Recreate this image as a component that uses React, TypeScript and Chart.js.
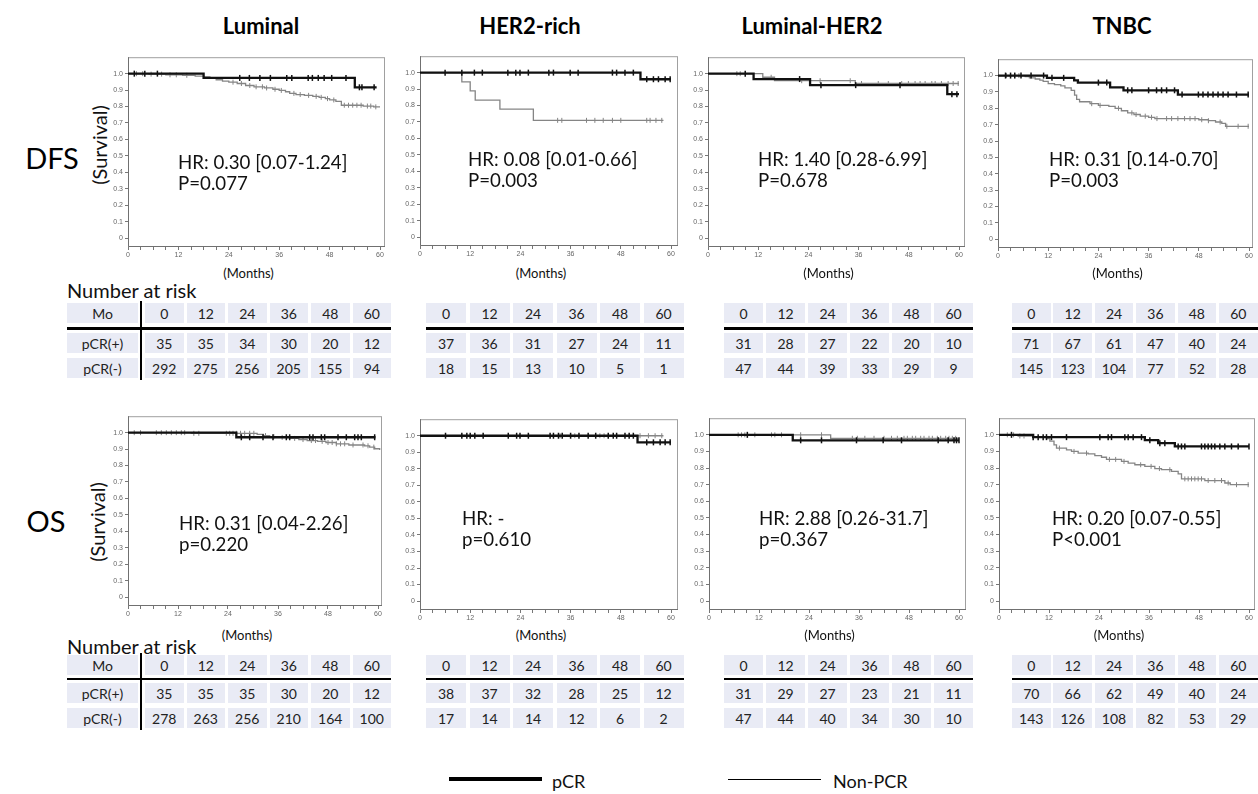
import React, { useEffect, useRef } from "react";
import { Chart, registerables } from "chart.js";
Chart.register(...registerables);

type Step = [number, number];

// ---------------- text / labels ----------------
const columnTitles = ["Luminal", "HER2-rich", "Luminal-HER2", "TNBC"];
const rowTitles = ["DFS", "OS"];
const riskRowLabels = ["Mo", "pCR(+)", "pCR(-)"];
const riskMonths = [0, 12, 24, 36, 48, 60];
const xTickLabels = [0, 12, 24, 36, 48, 60];
const xMinorTicks = [0, 3, 6, 9, 12, 15, 18, 21, 24, 27, 30, 33, 36, 39, 42, 45, 48, 51, 54, 57, 60];
const yTickValues = [0, 0.1, 0.2, 0.3, 0.4, 0.5, 0.6, 0.7, 0.8, 0.9, 1.0];

const dfsHR = ["HR: 0.30 [0.07-1.24]", "HR: 0.08 [0.01-0.66]", "HR: 1.40 [0.28-6.99]", "HR: 0.31 [0.14-0.70]"];
const dfsP = ["P=0.077", "P=0.003", "P=0.678", "P=0.003"];
const osHR = ["HR: 0.31 [0.04-2.26]", "HR: -", "HR: 2.88 [0.26-31.7]", "HR: 0.20 [0.07-0.55]"];
const osP = ["p=0.220", "p=0.610", "p=0.367", "P<0.001"];

// ---------------- number at risk ----------------
const dfsRiskPcrLuminal = [35, 35, 34, 30, 20, 12];
const dfsRiskNonLuminal = [292, 275, 256, 205, 155, 94];
const dfsRiskPcrHer2 = [37, 36, 31, 27, 24, 11];
const dfsRiskNonHer2 = [18, 15, 13, 10, 5, 1];
const dfsRiskPcrLumHer2 = [31, 28, 27, 22, 20, 10];
const dfsRiskNonLumHer2 = [47, 44, 39, 33, 29, 9];
const dfsRiskPcrTnbc = [71, 67, 61, 47, 40, 24];
const dfsRiskNonTnbc = [145, 123, 104, 77, 52, 28];

const osRiskPcrLuminal = [35, 35, 35, 30, 20, 12];
const osRiskNonLuminal = [278, 263, 256, 210, 164, 100];
const osRiskPcrHer2 = [38, 37, 32, 28, 25, 12];
const osRiskNonHer2 = [17, 14, 14, 12, 6, 2];
const osRiskPcrLumHer2 = [31, 29, 27, 23, 21, 11];
const osRiskNonLumHer2 = [47, 44, 40, 34, 30, 10];
const osRiskPcrTnbc = [70, 66, 62, 49, 40, 24];
const osRiskNonTnbc = [143, 126, 108, 82, 53, 29];

// ---------------- KM curves: [month, survival] ----------------
// DFS Luminal
const dfsLumPcr: Step[] = [[0, 1], [18, 0.974], [54, 0.917], [59.2, 0.917]];
const dfsLumPcrCens = [1.5, 4, 7, 26.6, 28.9, 31.4, 33.9, 37.8, 39, 42.9, 43.9, 45.3, 46.7, 48.5, 51.9, 55.1, 55.7, 58.6];
const dfsLumNon: Step[] = [[0, 1], [5, 0.997], [9, 0.993], [13, 0.99], [16, 0.985], [18, 0.98], [19.5, 0.972], [21, 0.963], [22.5, 0.955], [24, 0.948], [26, 0.94], [28, 0.928], [30, 0.92], [32.5, 0.913], [34.5, 0.905], [36, 0.898], [37.5, 0.89], [38.5, 0.88], [40, 0.873], [42, 0.868], [44, 0.862], [45.5, 0.856], [47, 0.848], [48, 0.84], [49.5, 0.832], [50.8, 0.808], [56, 0.803], [58.5, 0.798], [60, 0.798]];
const dfsLumNonCens = [2, 3.5, 5.5, 8, 10, 11.5, 14, 25, 27, 29, 30.5, 32, 33, 35, 36.5, 39.5, 41, 43, 44.8, 46, 47.5, 49, 51.5, 52.5, 53.5, 54.5, 55.5, 57, 57.8, 59];
// DFS HER2-rich
const dfsHerPcr: Step[] = [[0, 1], [52.7, 0.96], [60, 0.96]];
const dfsHerPcrCens = [6, 10, 13, 14.9, 21, 22.9, 23.9, 25.9, 30.8, 31.9, 35.9, 37.8, 46, 47, 49, 51, 54.2, 55.8, 57, 58.6, 59.8];
const dfsHerNon: Step[] = [[0, 1], [10, 0.944], [12, 0.889], [13.2, 0.833], [19.1, 0.778], [27.1, 0.71], [58.2, 0.71]];
const dfsHerNonCens = [32.9, 33.9, 39.8, 41.8, 43.8, 46, 48, 54.2, 55, 56.4, 57.8];
// DFS Luminal-HER2
const dfsLhPcr: Step[] = [[0, 1], [10.9, 0.967], [24.4, 0.93], [57.2, 0.875], [60, 0.875]];
const dfsLhPcrCens = [8.9, 21.9, 27, 35.3, 45.9, 58.3, 59.5];
const dfsLhNon: Step[] = [[0, 1], [13.1, 0.978], [15.9, 0.957], [35.2, 0.94], [60, 0.94]];
const dfsLhNonCens = [6.9, 7.7, 15.1, 22.4, 26.8, 34, 36.7, 40.7, 43.1, 46.3, 47.9, 49.5, 50.7, 51.9, 53.5, 54.3, 55.8, 57.4, 58.6, 59.8];
// DFS TNBC
const dfsTnPcr: Step[] = [[0, 1], [11.7, 0.986], [18.2, 0.971], [19.1, 0.957], [26.8, 0.928], [30, 0.91], [43, 0.884], [60, 0.884]];
const dfsTnPcrCens = [1.8, 3, 4, 5.5, 7.9, 10.9, 12.9, 15.7, 24, 26, 31, 32, 36, 37.9, 39.1, 40.3, 42.2, 44, 47.9, 49, 50.2, 51.4, 52.6, 53.8, 55, 57, 59.8];
const dfsTnNon: Step[] = [[0, 1], [6.5, 0.993], [7.5, 0.986], [8.9, 0.979], [10, 0.972], [10.8, 0.965], [12, 0.951], [13.5, 0.944], [15, 0.937], [16, 0.925], [17.5, 0.91], [18.3, 0.88], [18.8, 0.855], [19.5, 0.84], [22, 0.828], [24, 0.818], [26.5, 0.812], [28, 0.8], [29.5, 0.785], [31, 0.772], [32.5, 0.762], [34, 0.752], [36, 0.745], [37.5, 0.737], [48, 0.73], [50.3, 0.724], [52, 0.716], [53.5, 0.708], [54.4, 0.69], [60, 0.69]];
const dfsTnNonCens = [2, 3, 4, 5, 22.4, 24.4, 28.8, 32, 33, 35.2, 36.7, 38, 40.3, 41.5, 43, 44.6, 45.9, 47.1, 48.7, 50.3, 53.1, 54.7, 57.4, 59.8];

// OS Luminal
const osLumPcr: Step[] = [[0, 1], [26, 0.972], [59.4, 0.972]];
const osLumPcrCens = [27.2, 29.2, 32.4, 34.8, 38, 38.8, 43.6, 44.4, 46.4, 47.2, 50.4, 52.4, 54.4, 55.2, 56, 59.2];
const osLumNon: Step[] = [[0, 1], [15.2, 0.996], [31, 0.99], [32.5, 0.982], [34, 0.976], [36.5, 0.971], [38.8, 0.965], [41, 0.958], [43, 0.952], [45.5, 0.947], [47.5, 0.94], [50, 0.932], [53, 0.925], [56.8, 0.92], [58, 0.912], [59.2, 0.902], [60.4, 0.895]];
const osLumNonCens = [1.5, 3, 6.8, 8, 9.2, 10.4, 11.6, 12.8, 13.6, 15.8, 17, 23.6, 24.4, 25.2, 26, 27, 28, 29.2, 30.2, 33, 35, 37, 40, 42, 44, 45, 46.6, 48, 49, 50, 51, 52, 54, 56.4, 57.6, 59];
// OS HER2-rich
const osHerPcr: Step[] = [[0, 1], [52, 0.96], [60, 0.96]];
const osHerPcrCens = [6.1, 10, 11.2, 12, 13.1, 15.1, 21.1, 23.1, 23.9, 25.9, 31.1, 31.9, 33.1, 34, 36, 38, 40.2, 42, 45, 46.2, 47, 49, 50, 51, 54.2, 55.8, 57.4, 58.6, 59.8];
const osHerNon: Step[] = [[0, 1], [58.2, 1]];
const osHerNonCens = [33.5, 37, 43, 44, 47, 52.6, 54.6, 56.2, 57.8];
// OS Luminal-HER2
const osLhPcr: Step[] = [[0, 1], [20.1, 0.967], [60, 0.967]];
const osLhPcrCens = [9.2, 22, 27, 35.4, 41.8, 46.2, 55, 57.4, 58.8, 59.4, 60];
const osLhNon: Step[] = [[0, 1], [29.2, 0.979], [60, 0.979]];
const osLhNonCens = [7, 7.8, 8.6, 11, 15, 15.8, 17.4, 22, 27, 34.4, 35.6, 37.4, 39.6, 42, 43.8, 45.2, 46.8, 47.6, 48.8, 49.6, 50.8, 51.6, 52.8, 53.6, 54.8, 55.6, 56.8, 57.6, 58.4, 59.2];
// OS TNBC
const osTnPcr: Step[] = [[0, 1], [8.2, 0.986], [35, 0.968], [38.2, 0.95], [42.2, 0.93], [60, 0.93]];
const osTnPcrCens = [3, 8.2, 9.4, 10.6, 11.4, 12.6, 16.2, 24.2, 26.2, 27, 30.2, 31, 32.2, 34.2, 36.2, 38.6, 39.8, 43, 43.8, 44.6, 48.6, 49.4, 50.2, 51, 51.8, 53, 54.2, 55.8, 57.4, 60];
const osTnNon: Step[] = [[0, 1], [4.6, 0.993], [8.2, 0.986], [11.4, 0.977], [12.2, 0.962], [13.2, 0.94], [13.8, 0.92], [16.2, 0.91], [17.4, 0.9], [19, 0.89], [21.4, 0.885], [23, 0.875], [24.6, 0.865], [25.8, 0.852], [29.4, 0.84], [31, 0.83], [32.6, 0.82], [35, 0.81], [37.4, 0.797], [39, 0.79], [41.4, 0.78], [43, 0.765], [43.8, 0.735], [49.4, 0.725], [54.2, 0.71], [55.5, 0.7], [60, 0.7]];
const osTnNonCens = [2, 3.5, 5, 6, 14.5, 18, 21, 26.5, 28, 30, 34, 36.5, 38.5, 41, 44.6, 45.4, 46.2, 47, 47.8, 48.6, 50.2, 51.8, 53.4, 55, 57, 59.8];

// ---------------- layout (pixel positions, page coordinates) ----------------
const FONT = "Lato, 'Open Sans', sans-serif";
const TICK_FONT = "'Liberation Sans', Arial, sans-serif";
const PAD_L = 26, PAD_B = 14, PAD_T = 2, PAD_R = 8;

type Area = { l: number; r: number; t: number; b: number; x60: number };
const dfsAreas: Area[] = [
  { l: 128, r: 385, t: 53, b: 247, x60: 380 },
  { l: 420, r: 678, t: 52, b: 246, x60: 671 },
  { l: 708, r: 965, t: 53, b: 247, x60: 959 },
  { l: 998, r: 1253, t: 55, b: 248, x60: 1249 },
];
const osAreas: Area[] = [
  { l: 128, r: 382, t: 412, b: 606, x60: 378 },
  { l: 420, r: 678, t: 415, b: 610, x60: 671 },
  { l: 709, r: 966, t: 414, b: 610, x60: 959 },
  { l: 999, r: 1255, t: 414, b: 610, x60: 1249 },
];
const dfsHRPos = [[178, 162], [468, 159], [758, 159], [1049, 159]];
const osHRPos = [[179, 523], [462, 518], [759, 518], [1052, 518]];

function survAt(steps: Step[], t: number): number {
  let s = steps[0][1];
  for (const [x, y] of steps) if (x <= t) s = y;
  return s;
}

const framePlugin = {
  id: "kmFrame",
  beforeDatasetsDraw(chart: any) {
    const { ctx, chartArea: a } = chart;
    ctx.save();
    ctx.lineWidth = 1;
    ctx.strokeStyle = "#a0a0a0";
    ctx.strokeRect(a.left + 0.5, a.top + 0.5, a.right - a.left - 1, a.bottom - a.top - 1);
    ctx.strokeStyle = "#707070";
    ctx.beginPath();
    ctx.moveTo(a.left + 0.5, a.top);
    ctx.lineTo(a.left + 0.5, a.bottom - 0.5);
    ctx.lineTo(a.right, a.bottom - 0.5);
    ctx.stroke();
    ctx.restore();
  },
};

function KMPanel(props: { area: Area; pcr: Step[]; pcrC: number[]; non: Step[]; nonC: number[] }) {
  const { area, pcr, pcrC, non, nonC } = props;
  const ref = useRef<HTMLCanvasElement>(null);
  const W = area.r - area.l + PAD_L + PAD_R;
  const H = area.b - area.t + PAD_T + PAD_B;
  useEffect(() => {
    const xMax = (60 * (area.r - area.l)) / (area.x60 - area.l);
    const toPts = (s: Step[]) => s.map(([x, y]) => ({ x, y }));
    const cens = (steps: Step[], ts: number[]) => ts.map((t) => ({ x: t, y: survAt(steps, t) }));
    const tickFont = { size: 7, family: TICK_FONT };
    const chart = new Chart(ref.current as HTMLCanvasElement, {
      type: "line",
      data: {
        datasets: [
          { data: toPts(pcr), stepped: "before", borderColor: "#111", borderWidth: 2.3, pointRadius: 0, fill: false, clip: false } as any,
          { data: cens(pcr, pcrC), showLine: false, pointStyle: "line", rotation: 90, pointRadius: 3, borderColor: "#111", borderWidth: 1.5, clip: false } as any,
          { data: toPts(non), stepped: "before", borderColor: "#858585", borderWidth: 1.3, pointRadius: 0, fill: false, clip: false } as any,
          { data: cens(non, nonC), showLine: false, pointStyle: "line", rotation: 90, pointRadius: 2.5, borderColor: "#858585", borderWidth: 1, clip: false } as any,
        ],
      },
      options: {
        animation: false,
        responsive: false,
        events: [],
        layout: { padding: { top: PAD_T, right: PAD_R, left: 0, bottom: 0 } },
        plugins: { legend: { display: false }, tooltip: { enabled: false } },
        scales: {
          x: {
            type: "linear",
            min: 0,
            max: xMax,
            afterBuildTicks: (s: any) => {
              s.ticks = xMinorTicks.map((v) => ({ value: v }));
            },
            afterFit: (s: any) => {
              s.height = PAD_B;
            },
            ticks: {
              autoSkip: false,
              maxRotation: 0,
              padding: 1,
              color: "#666",
              font: tickFont,
              callback: (v: any) => (xTickLabels.includes(Number(v)) ? String(v) : ""),
            },
            grid: { drawOnChartArea: false, drawTicks: true, tickLength: 3, color: "#777" },
            border: { display: false },
          },
          y: {
            type: "linear",
            min: -0.054,
            max: 1.1,
            afterBuildTicks: (s: any) => {
              s.ticks = yTickValues.map((v) => ({ value: v }));
            },
            afterFit: (s: any) => {
              s.width = PAD_L;
            },
            ticks: {
              autoSkip: false,
              padding: 2,
              color: "#666",
              font: tickFont,
              callback: (v: any) => (Number(v) === 0 ? "0" : Number(v).toFixed(1)),
            },
            grid: { drawOnChartArea: false, drawTicks: true, tickLength: 3, color: "#777" },
            border: { display: false },
          },
        },
      } as any,
      plugins: [framePlugin],
    });
    return () => chart.destroy();
  }, []);
  return (
    <canvas
      ref={ref}
      width={W}
      height={H}
      style={{ position: "absolute", left: area.l - PAD_L, top: area.t - PAD_T, width: W, height: H }}
    />
  );
}

function Txt(props: { x: number; y: number; size: number; children: any; bold?: boolean; center?: boolean; color?: string }) {
  const { x, y, size, bold, center, color } = props;
  return (
    <div
      style={{
        position: "absolute",
        left: x,
        top: y,
        transform: center ? "translate(-50%, -50%)" : "translateY(-50%)",
        fontFamily: FONT,
        fontSize: size,
        fontWeight: bold ? 700 : 400,
        color: color || "#111",
        whiteSpace: "nowrap",
        lineHeight: 1,
      }}
    >
      {props.children}
    </div>
  );
}

type TableGeom = { x0: number; pitch: number; cellW: number; tops: number[]; lineY: number; label: boolean };

function RiskTable(props: { g: TableGeom; pcrRow: number[]; nonRow: number[] }) {
  const { g, pcrRow, nonRow } = props;
  const rows = [riskMonths, pcrRow, nonRow];
  const h = 20;
  const items: any[] = [];
  const labelL = 67, labelW = 71;
  const left = g.label ? labelL : g.x0;
  const right = g.x0 + g.pitch * 5 + g.cellW;
  rows.forEach((row, r) => {
    if (g.label) {
      items.push(
        <div key={`l${r}`} style={{ position: "absolute", left: labelL, top: g.tops[r], width: labelW, height: h, background: "#E9EBF5", fontFamily: FONT, fontSize: 14, color: "#222", display: "flex", alignItems: "center", justifyContent: "center" }}>
          {riskRowLabels[r]}
        </div>
      );
    }
    row.forEach((v, c) => {
      items.push(
        <div key={`c${r}_${c}`} style={{ position: "absolute", left: g.x0 + c * g.pitch, top: g.tops[r], width: g.cellW, height: h, background: "#E9EBF5", fontFamily: FONT, fontSize: 14, color: "#222", display: "flex", alignItems: "center", justifyContent: "center" }}>
          {v}
        </div>
      );
    });
  });
  items.push(<div key="hl" style={{ position: "absolute", left, top: g.lineY, width: right - left, height: 2.5, background: "#000" }} />);
  if (g.label) {
    items.push(<div key="vl" style={{ position: "absolute", left: 140, top: g.tops[0] - 2, width: 2, height: g.tops[2] + h - g.tops[0] + 4, background: "#000" }} />);
  }
  return <>{items}</>;
}

const dfsTableGeom: TableGeom[] = [
  { x0: 145, pitch: 41.5, cellW: 38.5, tops: [303, 333, 358], lineY: 327, label: true },
  { x0: 426, pitch: 43.5, cellW: 40, tops: [303, 333, 358], lineY: 327, label: false },
  { x0: 724, pitch: 42, cellW: 39, tops: [303, 333, 358], lineY: 327, label: false },
  { x0: 1012, pitch: 41.4, cellW: 38.5, tops: [303, 333, 358], lineY: 327, label: false },
];
const osTableGeom: TableGeom[] = dfsTableGeom.map((g) => ({ ...g, tops: [655, 683, 708], lineY: 677.5 }));

export default function App() {
  const dfsCurves = [
    [dfsLumPcr, dfsLumPcrCens, dfsLumNon, dfsLumNonCens],
    [dfsHerPcr, dfsHerPcrCens, dfsHerNon, dfsHerNonCens],
    [dfsLhPcr, dfsLhPcrCens, dfsLhNon, dfsLhNonCens],
    [dfsTnPcr, dfsTnPcrCens, dfsTnNon, dfsTnNonCens],
  ] as any[];
  const osCurves = [
    [osLumPcr, osLumPcrCens, osLumNon, osLumNonCens],
    [osHerPcr, osHerPcrCens, osHerNon, osHerNonCens],
    [osLhPcr, osLhPcrCens, osLhNon, osLhNonCens],
    [osTnPcr, osTnPcrCens, osTnNon, osTnNonCens],
  ] as any[];
  const dfsRisk = [
    [dfsRiskPcrLuminal, dfsRiskNonLuminal],
    [dfsRiskPcrHer2, dfsRiskNonHer2],
    [dfsRiskPcrLumHer2, dfsRiskNonLumHer2],
    [dfsRiskPcrTnbc, dfsRiskNonTnbc],
  ];
  const osRisk = [
    [osRiskPcrLuminal, osRiskNonLuminal],
    [osRiskPcrHer2, osRiskNonHer2],
    [osRiskPcrLumHer2, osRiskNonLumHer2],
    [osRiskPcrTnbc, osRiskNonTnbc],
  ];
  const titleX = [261, 530, 812, 1122];
  return (
    <div style={{ position: "absolute", left: 0, top: 0, width: 1258, height: 794, background: "#fff", overflow: "hidden" }}>
      {columnTitles.map((t, i) => (
        <Txt key={t} x={titleX[i]} y={26} size={22} bold center color="#000">{t}</Txt>
      ))}
      <Txt x={52} y={157} size={29} center color="#000">{rowTitles[0]}</Txt>
      <Txt x={46} y={520} size={29} center color="#000">{rowTitles[1]}</Txt>
      <div style={{ position: "absolute", left: 99, top: 145, transform: "translate(-50%, -50%) rotate(-90deg)", fontFamily: FONT, fontSize: 20, whiteSpace: "nowrap", lineHeight: 1, color: "#111" }}>(Survival)</div>
      <div style={{ position: "absolute", left: 97, top: 522, transform: "translate(-50%, -50%) rotate(-90deg)", fontFamily: FONT, fontSize: 20, whiteSpace: "nowrap", lineHeight: 1, color: "#111" }}>(Survival)</div>

      {dfsAreas.map((a, i) => (
        <KMPanel key={`d${i}`} area={a} pcr={dfsCurves[i][0]} pcrC={dfsCurves[i][1]} non={dfsCurves[i][2]} nonC={dfsCurves[i][3]} />
      ))}
      {osAreas.map((a, i) => (
        <KMPanel key={`o${i}`} area={a} pcr={osCurves[i][0]} pcrC={osCurves[i][1]} non={osCurves[i][2]} nonC={osCurves[i][3]} />
      ))}

      {dfsAreas.map((a, i) => (
        <Txt key={`dm${i}`} x={(a.l + a.r) / 2 - 8} y={273} size={13} center>(Months)</Txt>
      ))}
      {osAreas.map((a, i) => (
        <Txt key={`om${i}`} x={(a.l + a.r) / 2 - 8} y={635} size={13} center>(Months)</Txt>
      ))}

      {dfsHRPos.map((p, i) => (
        <React.Fragment key={`dh${i}`}>
          <Txt x={p[0]} y={p[1]} size={18.7}>{dfsHR[i]}</Txt>
          <Txt x={p[0]} y={p[1] + 21} size={18.7}>{dfsP[i]}</Txt>
        </React.Fragment>
      ))}
      {osHRPos.map((p, i) => (
        <React.Fragment key={`oh${i}`}>
          <Txt x={p[0]} y={p[1]} size={18.7}>{osHR[i]}</Txt>
          <Txt x={p[0]} y={p[1] + 21} size={18.7}>{osP[i]}</Txt>
        </React.Fragment>
      ))}

      <Txt x={67} y={290} size={20}>Number at risk</Txt>
      <Txt x={67} y={646} size={20}>Number at risk</Txt>
      {dfsTableGeom.map((g, i) => (
        <RiskTable key={`dt${i}`} g={g} pcrRow={dfsRisk[i][0]} nonRow={dfsRisk[i][1]} />
      ))}
      {osTableGeom.map((g, i) => (
        <RiskTable key={`ot${i}`} g={g} pcrRow={osRisk[i][0]} nonRow={osRisk[i][1]} />
      ))}

      <div style={{ position: "absolute", left: 449, top: 777, width: 93, height: 4, background: "#000" }} />
      <Txt x={552} y={781} size={18}>pCR</Txt>
      <div style={{ position: "absolute", left: 728, top: 778.5, width: 93, height: 1.5, background: "#000" }} />
      <Txt x={833} y={781} size={18}>Non-PCR</Txt>
    </div>
  );
}
